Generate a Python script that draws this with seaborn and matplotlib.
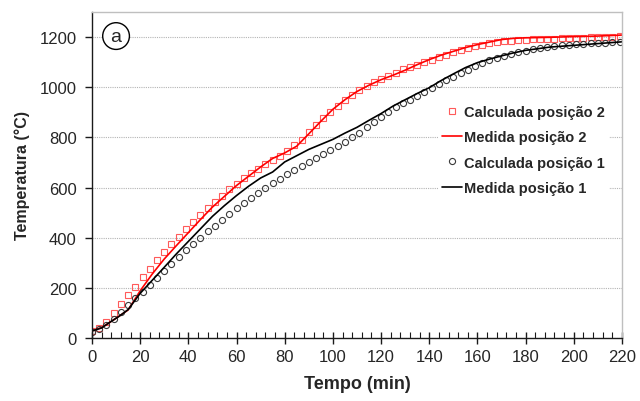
import matplotlib
matplotlib.use("Agg")
import matplotlib.pyplot as plt
import seaborn as sns
import pandas as pd
from matplotlib.ticker import MultipleLocator

# ---------------- data ----------------
calc_time = list(range(0, 220, 3))
calc_pos2 = [28, 40, 64, 99, 135, 170, 205, 242, 277, 310,
             341, 373, 403, 434, 462, 491, 519, 544, 568, 593,
             616, 637, 657, 674, 692, 709, 726, 746, 768, 791,
             821, 850, 876, 903, 927, 948, 968, 987, 1004, 1019,
             1033, 1046, 1058, 1071, 1080, 1090, 1100, 1110, 1120, 1130,
             1139, 1147, 1155, 1163, 1170, 1176, 1181, 1184, 1186, 1188,
             1190, 1191, 1192, 1193, 1194, 1195, 1196, 1197, 1198, 1199,
             1200, 1201, 1202, 1203]
calc_pos1 = [25, 36, 52, 75, 103, 131, 158, 185, 212, 239,
             267, 295, 322, 349, 374, 400, 425, 448, 472, 495,
             517, 538, 559, 579, 600, 619, 636, 652, 668, 685,
             701, 717, 733, 749, 766, 782, 800, 819, 840, 861,
             882, 902, 921, 936, 951, 966, 981, 996, 1012, 1027,
             1042, 1056, 1070, 1083, 1096, 1107, 1117, 1126, 1134, 1140,
             1146, 1153, 1158, 1162, 1165, 1168, 1170, 1172, 1174, 1175,
             1177, 1178, 1180, 1181]

meas_time = [0, 4, 7, 11, 15, 20, 25, 30, 35, 40, 45, 50, 55, 60, 65, 70, 75,
             80, 85, 90, 95, 100, 105, 110, 115, 120, 125, 130, 135, 140, 145,
             150, 155, 160, 165, 170, 175, 180, 190, 200, 210, 220]
meas_pos2 = [28, 42, 60, 85, 112, 188, 255, 315, 368, 420, 472, 522, 565, 608,
             645, 682, 716, 738, 765, 814, 864, 912, 950, 983, 1008, 1030, 1048,
             1068, 1090, 1110, 1128, 1143, 1158, 1170, 1180, 1190, 1195, 1197,
             1199, 1202, 1204, 1208]
meas_pos1 = [28, 40, 60, 85, 113, 178, 230, 282, 335, 385, 435, 485, 528, 568,
             605, 638, 662, 702, 727, 752, 772, 792, 817, 840, 868, 895, 925,
             950, 975, 998, 1027, 1053, 1078, 1098, 1112, 1125, 1137, 1147,
             1160, 1167, 1174, 1181]

labels = ["Calculada posição 2", "Medida posição 2",
          "Calculada posição 1", "Medida posição 1"]

df_calc2 = pd.DataFrame({"t": calc_time, "T": calc_pos2})
df_calc1 = pd.DataFrame({"t": calc_time, "T": calc_pos1})
df_meas2 = pd.DataFrame({"t": meas_time, "T": meas_pos2})
df_meas1 = pd.DataFrame({"t": meas_time, "T": meas_pos1})

# ---------------- figure ----------------
sns.set_style("white")
plt.rcParams["font.family"] = ["Liberation Sans", "DejaVu Sans"]

fig = plt.figure(figsize=(6.4, 4.02), dpi=100)
ax = fig.add_axes([0.1437, 0.1567, 0.8281, 0.811])

sns.lineplot(data=df_calc2, x="t", y="T", ax=ax, linestyle="", marker="s",
             markersize=3.8, markerfacecolor="none", markeredgecolor="#FF5A5A",
             markeredgewidth=0.8, errorbar=None, label=labels[0])
sns.lineplot(data=df_meas2, x="t", y="T", ax=ax, color="#FF0000", lw=1.2,
             errorbar=None, label=labels[1])
sns.lineplot(data=df_calc1, x="t", y="T", ax=ax, linestyle="", marker="o",
             markersize=4.4, markerfacecolor="none", markeredgecolor="#3A3A3A",
             markeredgewidth=0.8, errorbar=None, label=labels[2])
sns.lineplot(data=df_meas1, x="t", y="T", ax=ax, color="#000000", lw=1.2,
             errorbar=None, label=labels[3])

ax.set_xlim(0, 220)
ax.set_ylim(0, 1300)
ax.xaxis.set_major_locator(MultipleLocator(20))
ax.xaxis.set_minor_locator(MultipleLocator(4))
ax.set_yticks(range(0, 1201, 200))

ax.yaxis.grid(True, color="#B4B4B4", linestyle=(0, (1, 1)), lw=0.8)
ax.xaxis.grid(False)
ax.set_axisbelow(True)

for s in ("top", "right"):
    ax.spines[s].set_color("#BFBFBF")
    ax.spines[s].set_linewidth(1.0)
for s in ("left", "bottom"):
    ax.spines[s].set_color("#1A1A1A")
    ax.spines[s].set_linewidth(1.0)

ax.tick_params(axis="x", which="major", direction="inout", length=8,
               width=1, color="#1A1A1A", labelsize=12, pad=4, bottom=True)
ax.tick_params(axis="x", which="minor", direction="in", length=4,
               width=0.8, color="#1A1A1A", bottom=True)
ax.tick_params(axis="y", which="major", direction="out", length=5,
               width=1, color="#1A1A1A", labelsize=12, pad=6, left=True)

ax.set_xlabel("Tempo (min)", fontsize=13, fontweight="bold", labelpad=8)
ax.set_ylabel("Temperatura (°C)", fontsize=11.5, fontweight="bold", labelpad=7)

handles = ax.get_lines()[:4]
leg = ax.legend(handles=handles, labels=labels, loc="center left",
                bbox_to_anchor=(0.652, 0.577), frameon=True, fancybox=False,
                facecolor="white", edgecolor="none", framealpha=1,
                prop={"weight": "bold", "size": 10.5}, handlelength=1.4,
                handletextpad=0.1, labelspacing=0.78, borderpad=0.3,
                borderaxespad=0)

ax.text(10, 1204, "a", ha="center", va="center", fontsize=14,
        bbox=dict(boxstyle="circle,pad=0.25", fc="white", ec="black", lw=1),
        zorder=5)

fig.savefig("out.png", dpi=100)
